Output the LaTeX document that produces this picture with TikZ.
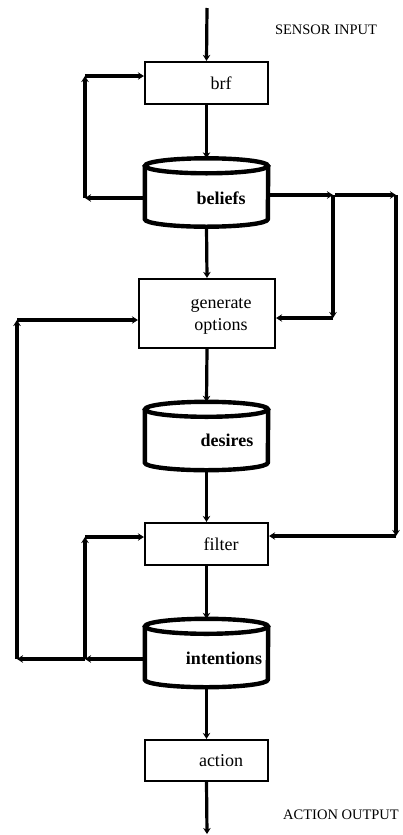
\documentclass[tikz,border=0pt]{standalone}
\usepackage{fontspec}
\setmainfont{Liberation Serif}
\usetikzlibrary{arrows.meta}

\tikzset{
	box/.style={draw, line width=2.2pt, inner sep=0pt, minimum width=123pt, minimum height=42pt},
	store/.style={inner sep=0pt, minimum width=123pt, minimum height=68pt},
	cyl/.style={draw, line width=4.4pt, fill=white},
	boxtext/.style={inner sep=0pt, font=\fontsize{18}{22}\selectfont, align=center},
	storetext/.style={inner sep=0pt, font=\fontsize{18}{22}\selectfont\bfseries},
	io/.style={inner sep=0pt, font=\fontsize{14.5}{17}\selectfont},
	flow/.style={line width=3.2pt, -{Stealth[length=6pt,width=7.5pt]}},
}

\begin{document}
\begin{tikzpicture}[x=1pt, y=-1pt]
		\useasboundingbox (0,0) rectangle (402,835);
		
		% boxes
		\node[box] (brf) at (206.5,83) {};
		\node[box, minimum width=136pt, minimum height=69pt] (gen) at (207,313.5) {};
		\node[box] (fil) at (206.5,544) {};
		\node[box, minimum height=41pt] (act) at (206.5,760.5) {};
		
		% stores
		\node[store] (bel) at (206.5,192.5) {};
		\node[store] (des) at (206.5,436) {};
		\node[store] (int) at (206.5,653) {};
		\foreach \s in {bel,des,int}{
			\draw[cyl] ([yshift=-7.5pt]\s.north west) -- ([yshift=7.5pt]\s.south west)
				arc (180:360:61.5pt and 7.5pt) -- ([yshift=-7.5pt]\s.north east);
			\draw[cyl] ([yshift=-7.5pt]\s.north) ellipse (61.5pt and 7.5pt);
		}
		
		% texts
		\node[boxtext] (brf-t) at ([shift={(14.5,0)}]brf) {brf};
		\node[boxtext] (gen-t) at ([shift={(14,3)}]gen) {generate\\options};
		\node[boxtext] (fil-t) at ([shift={(14.5,0)}]fil) {filter};
		\node[boxtext] (act-t) at ([shift={(14.5,0)}]act) {action};
		\node[storetext] (bel-t) at ([shift={(14.5,5.5)}]bel) {beliefs};
		\node[storetext] (des-t) at ([shift={(20.5,4)}]des) {desires};
		\node[storetext] (int-t) at ([shift={(17.5,5)}]int) {intentions};
		\node[io] (sensor) at (326,30) {SENSOR INPUT};
		\node[io] (output) at (341,815) {ACTION OUTPUT};
		
		\coordinate (in) at (207,8);
		\coordinate (out) at (207,834);
		\coordinate (bl1) at (85,198);
		\coordinate (bl2) at (85,76);
		\coordinate (br1) at (333,195);
		\coordinate (br2) at (396,195);
		\coordinate (br3) at (333,318);
		\coordinate (br4) at (396,536);
		\coordinate (fl1) at (85,659);
		\coordinate (fl2) at (85,537);
		\coordinate (gl1) at (17,659);
		\coordinate (gl2) at (17,320);
		
		% main line
		\draw[flow] (in) -- (brf.north);
		\draw[flow] (brf.south) -- (bel.north);
		\draw[flow] (bel.south) -- (gen.north);
		\draw[flow] (gen.south) -- (des.north);
		\draw[flow] (des.south) -- (fil.north);
		\draw[flow] (fil.south) -- (int.north);
		\draw[flow] (int.south) -- (act.north);
		\draw[flow] (act.south) -- (out);
		
		% beliefs back to brf
		\draw[flow] (bel.west |- bl1) -- (bl1);
		\draw[flow] (bl1) -- (bl2);
		\draw[flow] (bl2) -- (brf.west |- bl2);
		
		% beliefs to generate options and filter
		\draw[flow] (bel.east |- br1) -- (br1);
		\draw[flow] ([xshift=2pt]br1) -- (br2);
		\draw[flow] (br1) -- (br3);
		\draw[flow] (br3) -- (gen.east |- br3);
		\draw[flow] (br2) -- (br4);
		\draw[flow] (br4) -- (fil.east |- br4);
		
		% intentions back
		\draw[flow] (int.west |- fl1) -- (fl1);
		\draw[flow] (fl1) -- (gl1);
		\draw[flow] (fl1) -- (fl2);
		\draw[flow] (fl2) -- (fil.west |- fl2);
		\draw[flow] (gl1) -- (gl2);
		\draw[flow] (gl2) -- (gen.west |- gl2);
	\end{tikzpicture}
\end{document}
